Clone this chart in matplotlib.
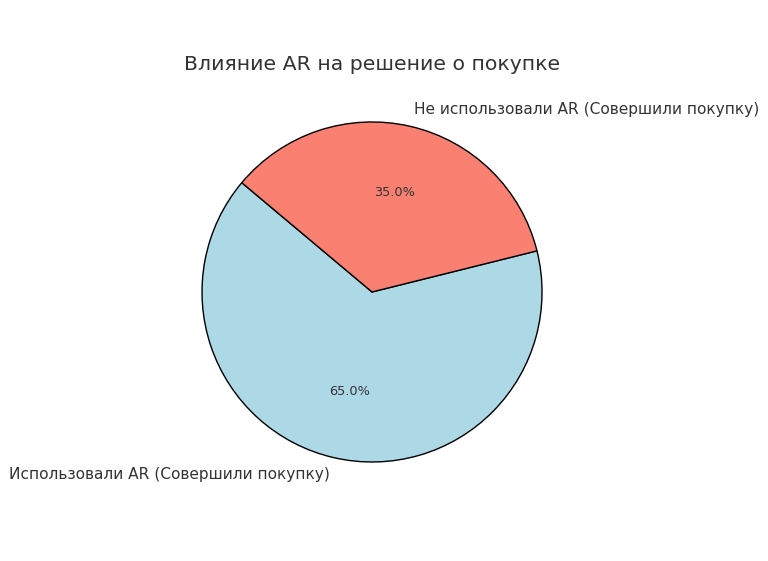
import matplotlib
matplotlib.use('Agg')
import matplotlib.pyplot as plt

labels = ['Использовали AR (Совершили покупку)', 'Не использовали AR (Совершили покупку)']
sizes = [65, 35]
colors = ['lightblue', 'salmon']

fig = plt.figure(figsize=(7.68, 5.61), dpi=100)
ax = fig.add_axes([0.2409, 0.1462, 0.487, 0.6667])
wedges, texts, autotexts = ax.pie(sizes, labels=labels, colors=colors, autopct='%1.1f%%',
                                  startangle=140, wedgeprops={'edgecolor': 'black'},
                                  textprops={'fontsize': 11.1, 'color': '#333333'})
for t in autotexts:
    t.set_fontsize(9.3)
ax.set_title('Влияние AR на решение о покупке', fontsize=14.7, color='#333333', pad=25)
ax.axis('equal')
fig.savefig('out.png', dpi=100)
